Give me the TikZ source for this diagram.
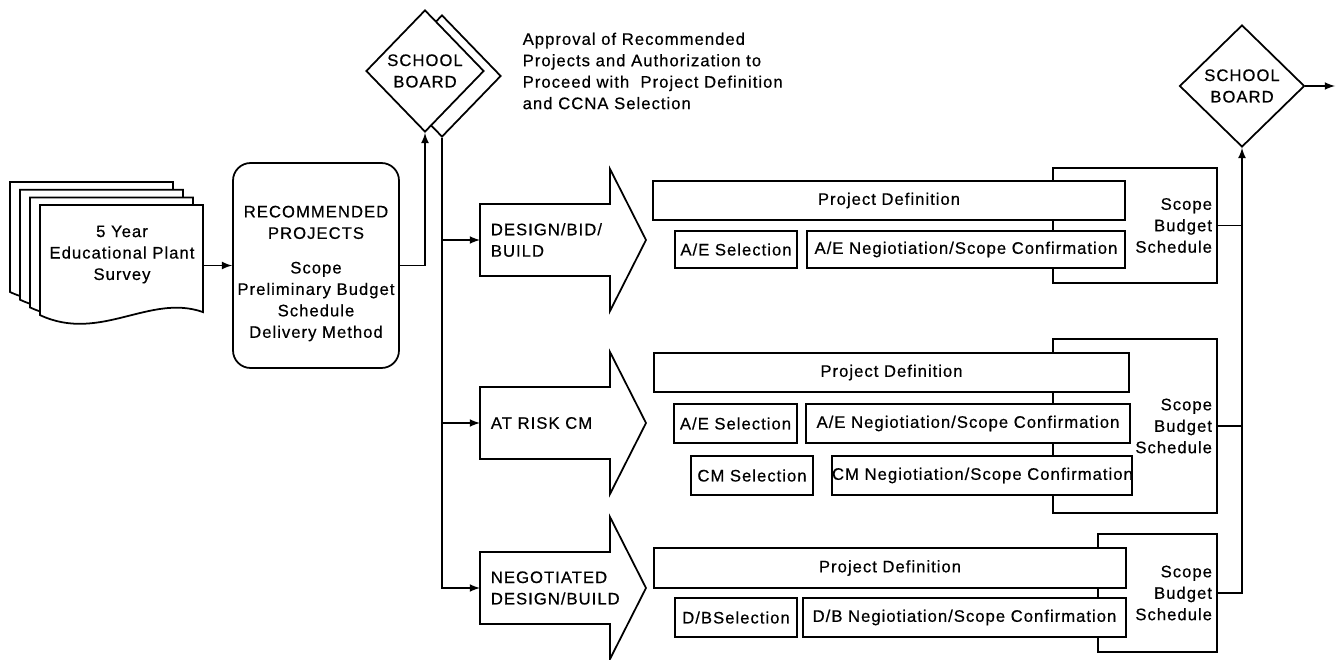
\documentclass[tikz,border=0pt]{standalone}
\usepackage{fontspec}
\setmainfont{Liberation Sans}[LetterSpace=6,FakeBold=0.5]
\usepackage{tikz}
\usetikzlibrary{shapes.geometric,arrows}

\begin{document}
\begin{tikzpicture}[x=0.02cm,y=-0.02cm,>=latex,line width=1pt,
                    font=\fontsize{9.5}{12.2}\selectfont,
                    plan/.style={draw,fill=white,inner sep=0pt,align=center,minimum height=0.76cm},
                    summary/.style={draw,fill=white,inner xsep=0.1cm,align=right},
                    board/.style={diamond,draw,fill=white,align=center,inner sep=0pt,minimum width=2.36cm,minimum height=2.44cm},
                    route/.style={anchor=west,inner xsep=0.2cm,align=left}
                ]
    \useasboundingbox (0,0) rectangle (1338,659);
    \foreach \i in {0,...,3}
        {
        \draw[fill=white,shift={({10*\i},{7.7*\i})}] (10,182) -- (173,182) -- (173,289)
            .. controls (120,270) and (70,320) .. (10,292) -- cycle;
    }
    \node[align=center] (survey) at (122,254.5) {5 Year\\Educational Plant\\Survey};
    \coordinate (surveyout) at (204,265.5);
    \node[draw,rounded corners=0.35cm,minimum width=3.32cm,minimum height=4.1cm] (rec) at (316,265.5) {};
    \node[align=center,inner xsep=0pt] (rectext) at (316,273.5)
        {RECOMMENDED\\PROJECTS\\[7.5pt]Scope\\Preliminary Budget\\Schedule\\Delivery Method};
    \node[board] (sb1s) at (442,76) {};
    \node[board] (sb1) at (425,71) {SCHOOL\\BOARD};
    \node[anchor=west,align=left] (approval) at (516,71)
        {Approval of Recommended\\Projects and Authorization to\\Proceed with\ \ Project Definition\\and CCNA Selection};

    \foreach \c in {240,423,588}
        {
        \draw (480,{\c-36}) -- (610,{\c-36}) -- (610,{\c-71}) -- (646,\c) -- (610,{\c+71}) -- (610,{\c+36}) -- (480,{\c+36}) -- cycle;
    }
    \node[route] (dbb) at (480,240) {DESIGN/BID/\\BUILD};
    \node[route] (risk) at (480,423) {AT RISK CM};
    \node[route] (neg) at (480,588) {NEGOTIATED\\DESIGN/BUILD};

    \node[summary,text width=3.08cm,minimum height=2.3cm] (sum1) at (1135,225.5) {Scope\\Budget\\Schedule};
    \node[plan,text width=9.44cm,minimum height=0.78cm] (pd1) at (889,200.5) {Project Definition};
    \node[plan,text width=2.44cm,minimum height=0.74cm] (aes1) at (736,249.5) {A/E Selection};
    \node[plan,text width=6.36cm,minimum height=0.74cm] (aen1) at (966,249.5) {A/E Negiotiation/Scope Confirmation};

    \node[summary,text width=3.08cm,minimum height=3.48cm] (sum2) at (1135,426) {Scope\\Budget\\Schedule};
    \node[plan,text width=9.5cm,minimum height=0.78cm] (pd2) at (891.5,372.5) {Project Definition};
    \node[plan,text width=2.46cm,minimum height=0.78cm] (aes2) at (735.5,423.5) {A/E Selection};
    \node[plan,text width=6.48cm,minimum height=0.78cm] (aen2) at (968,423.5) {A/E Negiotiation/Scope Confirmation};
    \node[plan,text width=2.44cm,minimum height=0.78cm] (cms) at (752,475.5) {CM Selection};
    \node[plan,text width=6.0cm,minimum height=0.78cm] (cmn) at (982,475.5) {CM Negiotiation/Scope Confirmation};

    \node[summary,text width=2.18cm,minimum height=2.36cm] (sum3) at (1157.5,593) {Scope\\Budget\\Schedule};
    \node[plan,text width=9.44cm,minimum height=0.8cm] (pd3) at (890,568) {Project Definition};
    \node[plan,text width=2.44cm,minimum height=0.78cm] (dbs) at (736,617.5) {D/BSelection};
    \node[plan,text width=6.46cm,minimum height=0.78cm] (dbn) at (964.5,617.5) {D/B Negiotiation/Scope Confirmation};

    \node[board,minimum width=2.5cm] (sb2) at (1242,86) {SCHOOL\\BOARD};
    \coordinate (out) at (1335,86);

    \draw[->] (surveyout) -- (rec.west);
    \draw[->] (rec.east) -- (rec.east -| sb1.south) -- (sb1.south);
    \draw[->] (sb1s.south) |- (neg.west);
    \draw[->] (sb1s.south |- dbb.west) -- (dbb.west);
    \draw[->] (sb1s.south |- risk.west) -- (risk.west);
    \draw (sum1.east) -- (sum1.east -| sb2.south);
    \draw (sum2.east) -- (sum2.east -| sb2.south);
    \draw[->] (sum3.east) -| (sb2.south);
    \draw[->] (sb2.east) -- (out);
\end{tikzpicture}
\end{document}
